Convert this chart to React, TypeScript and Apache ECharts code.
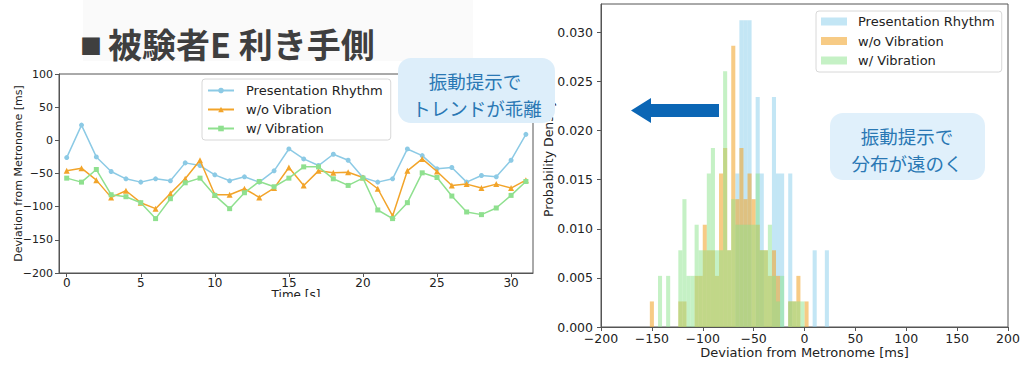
import React, { useEffect, useRef } from "react";
import * as echarts from "echarts";

// ---------- data: left line chart ----------
const timeSec = [0, 1, 2, 3, 4, 5, 6, 7, 8, 9, 10, 11, 12, 13, 14, 15, 16, 17, 18, 19, 20, 21, 22, 23, 24, 25, 26, 27, 28, 29, 30, 31];
const presentationRhythm = [-26, 23, -25, -47, -58, -63, -58, -61, -34, -38, -52, -61, -55, -63, -46, -13, -28, -38, -21, -30, -56, -63, -58, -13, -23, -43, -41, -63, -53, -55, -30, 9];
const withoutVibration = [-46, -42, -60, -86, -76, -94, -103, -80, -58, -30, -82, -82, -73, -86, -72, -41, -68, -46, -49, -48, -56, -73, -114, -46, -28, -47, -68, -66, -72, -66, -72, -60];
const withVibration = [-57, -63, -44, -82, -85, -94, -118, -88, -64, -57, -83, -103, -79, -62, -70, -57, -40, -40, -58, -68, -57, -105, -118, -94, -49, -56, -84, -108, -112, -102, -83, -62];

const lineTicksX = [0, 5, 10, 15, 20, 25, 30];

// ---------- data: right histogram (counts per 4 ms bin, first bin starts at -152 ms) ----------
const histBinStart = -152;
const histBinWidth = 4;
const histSampleCount = 96;
const histPresentation = [0, 0, 0, 0, 0, 0, 0, 0, 0, 0, 0, 0, 0, 0, 0, 0, 0, 0, 0, 0, 0, 6, 12, 12, 12, 0, 9, 6, 0, 0, 9, 6, 6, 0, 6, 0, 0, 0, 0, 0, 3, 0, 0, 3];
const histWithout = [1, 0, 0, 0, 0, 0, 0, 1, 1, 0, 0, 2, 2, 4, 3, 3, 2, 6, 7, 3, 11, 5, 7, 5, 6, 5, 4, 3, 3, 2, 3, 2, 0, 0, 1, 1, 2, 0, 1, 0, 0, 0, 0, 0];
const histWith = [0, 0, 2, 0, 2, 0, 0, 3, 5, 2, 2, 4, 3, 3, 6, 7, 3, 3, 10, 3, 5, 4, 4, 4, 4, 4, 6, 3, 3, 4, 2, 1, 2, 0, 1, 1, 1, 1, 0, 0, 0, 0, 0, 0];

const histTicksY = [0, 0.005, 0.01, 0.015, 0.02, 0.025, 0.03];

const seriesNames = ["Presentation Rhythm", "w/o Vibration", "w/ Vibration"];

const FONT = "DejaVu Sans";
const JP = "Noto Sans CJK JP";

const minus = (v: number) => (v < 0 ? "\u2212" + Math.abs(v) : String(v));

function toBins(counts: number[]) {
  return counts
    .map((c, i) => [
      histBinStart + i * histBinWidth,
      histBinStart + (i + 1) * histBinWidth,
      c / (histSampleCount * histBinWidth),
    ])
    .filter((d) => d[2] > 0);
}

function histRender(color: string) {
  return (params: any, api: any) => {
    const p0 = api.coord([api.value(0), api.value(2)]);
    const p1 = api.coord([api.value(1), 0]);
    return {
      type: "rect",
      shape: { x: p0[0], y: p0[1], width: p1[0] - p0[0], height: p1[1] - p0[1] },
      style: { fill: color },
    };
  };
}

export default function App() {
  const ref = useRef<HTMLDivElement>(null);
  useEffect(() => {
    document.body.style.margin = "0";
    if (!ref.current) return;
    const chart = echarts.init(ref.current, undefined, { renderer: "svg" });

    const lineColors = ["#8ccae5", "#f2a42a", "#8fe08f"];
    const histColors = ["rgba(135,206,235,0.5)", "rgba(242,165,45,0.58)", "rgba(140,228,140,0.5)"];
    const lineData = [presentationRhythm, withoutVibration, withVibration];
    const histData = [histPresentation, histWithout, histWith];
    const symbols = ["circle", "triangle", "rect"];

    const axisLineStyle = { onZero: false, lineStyle: { color: "#555", width: 1 } };
    const tick = { show: true, inside: false, length: 4, lineStyle: { color: "#555" } };
    const calloutText = (text: string, x: number, y: number) => ({
      type: "text",
      z: 71,
      x,
      y,
      style: { text, fontFamily: JP, fontSize: 18.5, fill: "#2a78b4", textAlign: "center", textVerticalAlign: "middle" },
    });

    chart.setOption({
      animation: false,
      backgroundColor: "#fff",
      grid: [
        { left: 59, top: 74, width: 474, height: 199, show: true, borderColor: "#555", borderWidth: 1 },
        { left: 601, top: 4, width: 407, height: 323, show: true, borderColor: "#555", borderWidth: 1 },
      ],
      xAxis: [
        {
          gridIndex: 0,
          type: "value",
          min: -0.52,
          max: 31.48,
          axisLine: axisLineStyle,
          axisTick: { ...tick, customValues: lineTicksX },
          axisLabel: { customValues: lineTicksX, fontFamily: FONT, fontSize: 12, color: "#222", margin: 4 },
          splitLine: { show: false },
          name: "Time [s]",
          nameLocation: "middle",
          nameGap: 16,
          nameMoveOverlap: false,
          nameTextStyle: { fontFamily: FONT, fontSize: 12, color: "#222" },
        },
        {
          gridIndex: 1,
          type: "value",
          min: -200,
          max: 200,
          interval: 50,
          axisLine: axisLineStyle,
          axisTick: tick,
          axisLabel: { formatter: minus, fontFamily: FONT, fontSize: 12.5, color: "#222", margin: 5 },
          splitLine: { show: false },
          name: "Deviation from Metronome [ms]",
          nameLocation: "middle",
          nameGap: 19,
          nameMoveOverlap: false,
          nameTextStyle: { fontFamily: FONT, fontSize: 13, color: "#222" },
        },
      ],
      yAxis: [
        {
          gridIndex: 0,
          type: "value",
          min: -200,
          max: 100,
          interval: 50,
          axisLine: { show: true, ...axisLineStyle },
          axisTick: tick,
          axisLabel: { formatter: minus, fontFamily: FONT, fontSize: 11, color: "#222", margin: 6 },
          splitLine: { show: false },
          name: "Deviation from Metronome [ms]",
          nameLocation: "middle",
          nameGap: 35,
          nameMoveOverlap: false,
          nameTextStyle: { fontFamily: FONT, fontSize: 11, color: "#222" },
        },
        {
          gridIndex: 1,
          type: "value",
          min: 0,
          max: 0.0329,
          axisLine: { show: true, ...axisLineStyle },
          axisTick: { ...tick, customValues: histTicksY },
          axisLabel: {
            customValues: histTicksY,
            formatter: (v: number) => v.toFixed(3),
            fontFamily: FONT,
            fontSize: 12.5,
            color: "#222",
            margin: 8,
          },
          splitLine: { show: false },
        },
      ],
      legend: [
        {
          left: 202,
          top: 79,
          orient: "vertical",
          itemWidth: 26,
          itemHeight: 7,
          itemGap: 6,
          padding: [5, 8, 5, 5],
          backgroundColor: "#fff",
          borderColor: "#d8d8d8",
          borderWidth: 1,
          borderRadius: 3,
          textStyle: { fontFamily: FONT, fontSize: 13, color: "#222", padding: [0, 0, 0, 7] },
          data: seriesNames,
        },
        {
          left: 816,
          top: 11,
          orient: "vertical",
          itemWidth: 26,
          itemHeight: 8,
          itemGap: 6.5,
          padding: [4, 7, 5, 5],
          backgroundColor: "#fff",
          borderColor: "#d8d8d8",
          borderWidth: 1,
          borderRadius: 3,
          formatter: (n: string) => n.slice(2),
          textStyle: { fontFamily: FONT, fontSize: 13, color: "#222", padding: [0, 0, 0, 6] },
          data: seriesNames.map((n) => ({ name: "h:" + n, icon: "rect" })),
        },
      ],
      series: [
        ...seriesNames.map((n, k) => ({
          type: "line",
          name: n,
          xAxisIndex: 0,
          yAxisIndex: 0,
          data: timeSec.map((t, i) => [t, lineData[k][i]]),
          symbol: symbols[k],
          symbolSize: k === 1 ? 6 : 5,
          showSymbol: true,
          lineStyle: { color: lineColors[k], width: 1.5 },
          itemStyle: { color: lineColors[k] },
          z: 2 + k,
        })),
        ...seriesNames.map((n, k) => ({
          type: "custom",
          name: "h:" + n,
          xAxisIndex: 1,
          yAxisIndex: 1,
          encode: { x: [0, 1], y: 2 },
          data: toBins(histData[k]),
          itemStyle: { color: histColors[k] },
          renderItem: histRender(histColors[k]),
          z: 2 + k,
        })),
      ],
      graphic: [
        { type: "rect", z: 50, silent: true, shape: { x: 83, y: 0, width: 390, height: 61 }, style: { fill: "#fafafa" } },
        { type: "text", z: 60, x: 91, y: 44, style: { text: "■", fontFamily: JP, fontSize: 22, fill: "#3f3f3f", textAlign: "center", textVerticalAlign: "middle" } },
        { type: "text", z: 60, x: 108, y: 43, style: { text: "被験者E 利き手側", fontFamily: JP, fontWeight: "bold", fontSize: 34, fill: "#3f3f3f", textAlign: "left", textVerticalAlign: "middle" } },
        { type: "rect", z: 50, shape: { x: 0, y: 297, width: 545, height: 70 }, style: { fill: "#fff" } },
        { type: "text", z: 40, x: 548, y: 217, rotation: Math.PI / 2, style: { text: "Probability Density", fontFamily: FONT, fontSize: 12.5, fill: "#222", textAlign: "left", textVerticalAlign: "middle" } },
        { type: "rect", z: 70, shape: { x: 398, y: 58, width: 157, height: 65, r: 13 }, style: { fill: "#ddeefa" } },
        calloutText("振動提示で", 475, 81),
        calloutText("トレンドが乖離", 477, 108),
        { type: "rect", z: 70, shape: { x: 830, y: 113, width: 155, height: 67, r: 13 }, style: { fill: "#e0f0fb" } },
        calloutText("振動提示で", 907, 136),
        calloutText("分布が遠のく", 907, 163),
        {
          type: "polygon",
          z: 72,
          shape: { points: [[631, 110.5], [651, 98], [651, 104], [719, 104], [719, 117], [651, 117], [651, 123]] },
          style: { fill: "#0b66b5" },
        },
      ],
    });
    return () => chart.dispose();
  }, []);
  return <div ref={ref} style={{ width: 1024, height: 367 }} />;
}
